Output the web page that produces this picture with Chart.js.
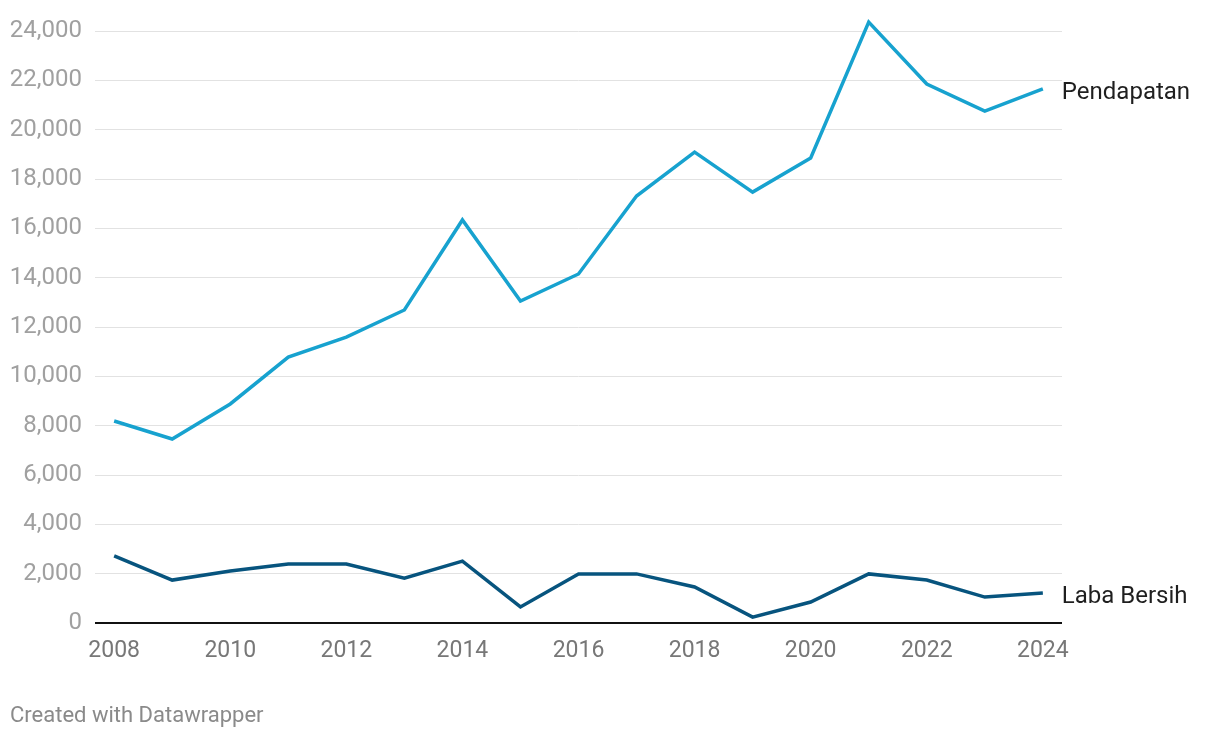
<!DOCTYPE html>
<html>
<head>
<meta charset="utf-8">
<script src="https://cdn.jsdelivr.net/npm/chart.js@4/dist/chart.umd.min.js"></script>
<style>
  html, body { margin: 0; padding: 0; background: #fff; }
  #wrap { position: relative; width: 1220px; height: 738px; }
  #footer {
    position: absolute; left: 10px; top: 703px;
    font: 22px/24px Roboto, sans-serif; color: #8a8a8a;
  }
</style>
</head>
<body>
<div id="wrap">
  <canvas id="chart" width="1220" height="738"></canvas>
  <div id="footer">Created with Datawrapper</div>
</div>
<script>
const years = [2008, 2009, 2010, 2011, 2012, 2013, 2014, 2015, 2016, 2017, 2018, 2019, 2020, 2021, 2022, 2023, 2024];
const pendapatan = [8190, 7460, 8880, 10780, 11590, 12690, 16340, 13050, 14150, 17310, 19090, 17470, 18850, 24360, 21850, 20750, 21650];
const labaBersih = [2720, 1740, 2110, 2390, 2390, 1820, 2510, 650, 1990, 1990, 1460, 240, 850, 1990, 1740, 1050, 1220];
const xTicks = [2008, 2010, 2012, 2014, 2016, 2018, 2020, 2022, 2024];
const yTicks = [0, 2000, 4000, 6000, 8000, 10000, 12000, 14000, 16000, 18000, 20000, 22000, 24000];

const seriesLabels = {
  id: "seriesLabels",
  afterDatasetsDraw(chart) {
    const ctx = chart.ctx;
    ctx.save();
    ctx.font = "24px Roboto, sans-serif";
    ctx.fillStyle = "#1f1f1f";
    ctx.textBaseline = "middle";
    chart.data.datasets.forEach((ds, i) => {
      const pts = chart.getDatasetMeta(i).data;
      const last = pts[pts.length - 1];
      ctx.fillText(ds.label, last.x + 19, last.y + 4);
    });
    ctx.restore();
  }
};

new Chart(document.getElementById("chart").getContext("2d"), {
  type: "line",
  data: {
    datasets: [
      {
        label: "Pendapatan",
        data: years.map((y, i) => ({ x: y, y: pendapatan[i] })),
        borderColor: "#17a2cf",
        borderWidth: 3.5,
        pointRadius: 0,
        tension: 0,
        clip: false
      },
      {
        label: "Laba Bersih",
        data: years.map((y, i) => ({ x: y, y: labaBersih[i] })),
        borderColor: "#07547e",
        borderWidth: 3.5,
        pointRadius: 0,
        tension: 0,
        clip: false
      }
    ]
  },
  options: {
    responsive: false,
    animation: false,
    layout: { padding: { left: 0, top: 31, right: 158, bottom: 50 } },
    plugins: { legend: { display: false }, tooltip: { enabled: false } },
    scales: {
      x: {
        type: "linear",
        min: 2007.67,
        max: 2024.33,
        afterBuildTicks: s => { s.ticks = xTicks.map(v => ({ value: v })); },
        afterFit: s => { s.height = 65; },
        grid: { display: false, drawTicks: false },
        border: { display: false },
        ticks: {
          color: "#777",
          font: { family: "Roboto", size: 23 },
          padding: 14,
          maxRotation: 0,
          callback: v => String(v)
        }
      },
      y: {
        min: 0,
        max: 24000,
        afterBuildTicks: s => { s.ticks = yTicks.map(v => ({ value: v })); },
        afterFit: s => { s.width = 95; },
        grid: {
          drawTicks: false,
          color: c => c.tick.value === 0 ? "#111" : "#e2e2e2",
          lineWidth: c => c.tick.value === 0 ? 2 : 1
        },
        border: { display: false },
        ticks: {
          color: "#a0a0a0",
          font: { family: "Roboto", size: 24 },
          padding: 13,
          callback: v => v.toLocaleString("en-US")
        }
      }
    }
  },
  plugins: [seriesLabels]
});
</script>
</body>
</html>
